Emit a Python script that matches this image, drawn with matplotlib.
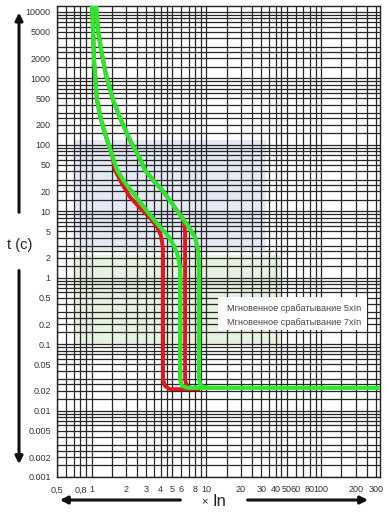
import matplotlib
matplotlib.use("Agg")
import matplotlib.pyplot as plt
from matplotlib.patches import FancyArrowPatch, Rectangle
from matplotlib.ticker import FixedLocator, LogLocator, FixedFormatter, NullFormatter

plt.rcParams["font.family"] = ["Liberation Sans", "DejaVu Sans"]

# ---- data (I / In, t in seconds) ----
X_TICKS = [0.5, 0.8, 1, 2, 3, 4, 5, 6, 8, 10, 20, 30, 40, 50, 60, 80, 100, 200, 300]
X_LABELS = ["0,5", "0,8", "1", "2", "3", "4", "5", "6", "8", "10", "20", "30",
            "40", "50", "60", "80", "100", "200", "300"]
Y_TICKS = [0.001, 0.002, 0.005, 0.01, 0.02, 0.05, 0.1, 0.2, 0.5, 1, 2, 5,
           10, 20, 50, 100, 200, 500, 1000, 2000, 5000, 10000]
Y_LABELS = ["0.001", "0.002", "0.005", "0.01", "0.02", "0.05", "0.1", "0.2",
            "0.5", "1", "2", "5", "10", "20", "50", "100", "200", "500",
            "1000", "2000", "5000", "10000"]
X_SUBS = [1.0, 1.5, 2.0, 2.5, 3.0, 3.5, 4.0, 4.5, 5.0, 6.0, 7.0, 8.0, 9.0]
Y_SUBS = [1.0, 1.5, 2.0, 2.5, 3.0, 4.0, 5.0, 6.0, 7.0, 8.0, 9.0]

# thermal part shared by the left pair
left_top_I = [1.009, 1.03, 1.05, 1.115, 1.21, 1.363, 1.507]
left_top_t = [13000, 5360, 1894, 473, 237, 118, 70.4]

# green, left
g1_tail_I = [1.67, 1.88, 2.16, 2.64, 3.23, 3.95, 4.64, 5.23, 5.66, 5.9, 5.9, 6.14, 6.92, 10.8]
g1_tail_t = [41.8, 29.6, 21.7, 13.8, 8.79, 5.8, 4.25, 3.0, 2.12, 1.40, 0.029, 0.0234, 0.022, 0.022]

# red, left
r1_tail_I = [1.60, 1.84, 2.16, 2.64, 3.23, 3.72, 4.03, 4.19, 4.19, 4.36, 4.82, 7.2]
r1_tail_t = [41.8, 25.8, 16.4, 11.2, 7.93, 5.8, 4.25, 2.80, 0.029, 0.0234, 0.021, 0.021]

# thermal part shared by the right pair
right_top_I = [1.093, 1.138, 1.21, 1.336, 1.54, 1.80, 2.16, 2.54, 2.92, 3.43, 4.11, 4.92, 5.9]
right_top_t = [13000, 5360, 2680, 1126, 473, 237, 118, 70.4, 41.8, 29.6, 20.9, 13.8, 8.79]

# green, right
g2_tail_I = [6.92, 7.97, 8.46, 8.63, 8.63, 8.98, 10.1, 330]
g2_tail_t = [6.0, 4.10, 2.61, 1.55, 0.029, 0.0234, 0.022, 0.022]

# red, right
r2_tail_I = [6.39, 6.52, 6.52, 6.78, 7.5, 8.46]
r2_tail_t = [7.14, 4.88, 0.029, 0.0234, 0.021, 0.021]

LEGEND_LABELS = ["Мгновенное срабатывание 5xIn", "Мгновенное срабатывание 7xIn"]

RED = "#e3161d"
GREEN = "#2be82b"

fig = plt.figure(figsize=(3.88, 5.12), dpi=100)
ax = fig.add_axes([57 / 388, 35 / 512, 323 / 388, 471 / 512])
ax.set_xscale("log")
ax.set_yscale("log")
ax.set_xlim(0.5, 325)
ax.set_ylim(0.001, 12310)

# faint watermark behind the grid
ax.add_patch(Rectangle((0.056, 0.482), 0.59, 0.234, transform=ax.transAxes,
                       fc="#e4e9f4", ec="none", zorder=0.2))
ax.add_patch(Rectangle((0.056, 0.28), 0.634, 0.191, transform=ax.transAxes,
                       fc="#e7f1df", ec="none", zorder=0.2))

# dense grid
ax.xaxis.set_major_locator(FixedLocator(X_TICKS))
ax.xaxis.set_major_formatter(FixedFormatter(X_LABELS))
ax.xaxis.set_minor_locator(LogLocator(base=10, subs=X_SUBS, numticks=60))
ax.xaxis.set_minor_formatter(NullFormatter())
ax.yaxis.set_major_locator(FixedLocator(Y_TICKS))
ax.yaxis.set_major_formatter(FixedFormatter(Y_LABELS))
ax.yaxis.set_minor_locator(LogLocator(base=10, subs=Y_SUBS, numticks=60))
ax.yaxis.set_minor_formatter(NullFormatter())
ax.set_axisbelow(True)
ax.grid(True, which="both", color="#262626", lw=0.9)
ax.tick_params(which="both", length=0)
ax.tick_params(axis="y", pad=4.5, labelsize=6.5, labelcolor="#333333")
ax.tick_params(axis="x", pad=6, labelsize=6.5, labelcolor="#333333")
for sp in ax.spines.values():
    sp.set_color("#222222")
    sp.set_linewidth(1.0)

# curves: red under green
r1_I, r1_t = left_top_I + r1_tail_I, left_top_t + r1_tail_t
g1_I, g1_t = left_top_I + g1_tail_I, left_top_t + g1_tail_t
r2_I, r2_t = right_top_I + r2_tail_I, right_top_t + r2_tail_t
g2_I, g2_t = right_top_I + g2_tail_I, right_top_t + g2_tail_t

for xs, ys in [(r1_I, r1_t), (r2_I, r2_t)]:
    ax.plot(xs, ys, color=RED, lw=2.8, solid_joinstyle="round", zorder=3)
for xs, ys in [(g1_I, g1_t), (g2_I, g2_t)]:
    ax.plot(xs, ys, color=GREEN, lw=3.0, solid_joinstyle="round", zorder=4)

# legend box (text only)
ax.add_patch(Rectangle((0.498, 0.312), 0.462, 0.07, transform=ax.transAxes,
                       fc="white", ec="none", zorder=5))
for i, lab in enumerate(LEGEND_LABELS):
    ax.text(0.526, 0.357 - i * 0.030, lab, transform=ax.transAxes, fontsize=6.6,
            color="#444444", va="center", ha="left", zorder=6)

# axis arrows and names
arrow_kw = dict(transform=fig.transFigure, arrowstyle="-|>", mutation_scale=11,
                lw=2.2, color="#111111")
fig.add_artist(FancyArrowPatch((0.049, 0.58), (0.049, 0.981), **arrow_kw))
fig.add_artist(FancyArrowPatch((0.049, 0.477), (0.049, 0.088), **arrow_kw))
fig.text(0.0515, 0.5215, "t (c)", fontsize=10.5, color="#222222", ha="center", va="center")

fig.add_artist(FancyArrowPatch((0.472, 0.0234), (0.147, 0.0234), **arrow_kw))
fig.add_artist(FancyArrowPatch((0.631, 0.0234), (0.956, 0.0234), **arrow_kw))
fig.text(0.526, 0.022, "×", fontsize=8, color="#222222", ha="center", va="center")
fig.text(0.565, 0.021, "In", fontsize=12, color="#222222", ha="center", va="center")

fig.savefig("out.png", dpi=100)
